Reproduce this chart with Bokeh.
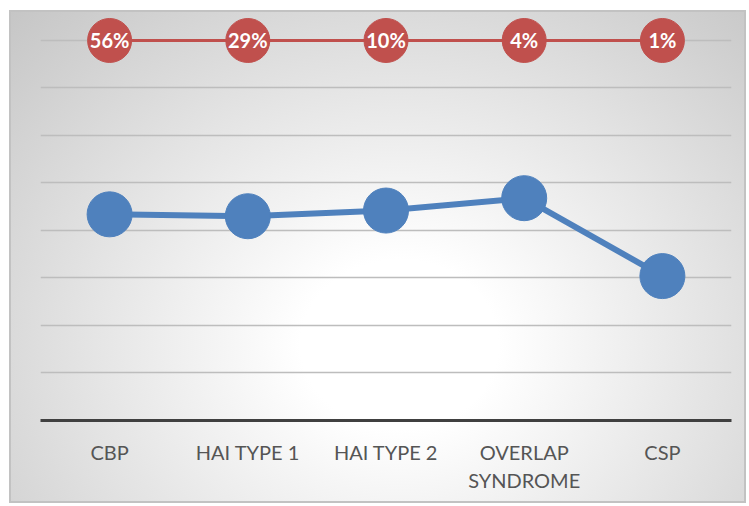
from bokeh.plotting import figure
from bokeh.models import Range1d, FixedTicker, FactorRange, ColumnDataSource
from bokeh.core.properties import value
from bokeh.embed import file_html
from bokeh.resources import INLINE

categories = ["CBP", "HAI TYPE 1", "HAI TYPE 2", "OVERLAP\nSYNDROME", "CSP"]
blue_values = [4.34, 4.30, 4.42, 4.68, 3.04]
red_values = [8, 8, 8, 8, 8]
red_labels = ["56%", "29%", "10%", "4%", "1%"]
grid_ticks = [1, 2, 3, 4, 5, 6, 7, 8]

blue_src = ColumnDataSource(dict(x=categories, y=blue_values))
red_src = ColumnDataSource(dict(x=categories, y=red_values, t=red_labels))

p = figure(
    x_range=FactorRange(*categories), y_range=Range1d(0, 8.568),
    width=746, height=504, output_backend="svg", toolbar_location=None,
    min_border_left=40, min_border_right=15, min_border_top=13, min_border_bottom=84,
)
p.background_fill_color = None
p.border_fill_color = None
p.outline_line_color = None
p.styles = {
    "background": (
        "radial-gradient(ellipse farthest-corner at 53% 68%, #ffffff 0%, #ffffff 18%, #c6c6c6 100%) 11px 12px / 733px 489px no-repeat, "
        "linear-gradient(#c2c2c2, #c2c2c2) 9px 10px / 737px 493px no-repeat, "
        "#ffffff"
    ),
}

p.yaxis.visible = False
p.xgrid.grid_line_color = None
p.ygrid.ticker = FixedTicker(ticks=grid_ticks)
p.ygrid.grid_line_color = "#bdbdbd"
p.ygrid.grid_line_width = 1.5

ax = p.xaxis[0]
ax.axis_line_color = "#404040"
ax.axis_line_width = 3
ax.major_tick_line_color = None
ax.minor_tick_line_color = None
ax.major_label_text_font = "Lato"
ax.major_label_text_font_size = "20px"
ax.major_label_text_color = "#555555"
ax.major_label_standoff = 13

p.line("x", "y", source=blue_src, line_width=6, color="#4f81bd")
p.scatter("x", "y", source=blue_src, size=45, color="#4f81bd")
p.line("x", "y", source=red_src, line_width=3, color="#c0504d")
p.scatter("x", "y", source=red_src, size=44, color="#c0504d")
p.text("x", "y", text="t", source=red_src, text_align="center", text_baseline="middle",
       text_color="white", text_font=value("Lato"), text_font_style="bold",
       text_font_size="20px")

open("out.html", "w").write(file_html(p, INLINE))
